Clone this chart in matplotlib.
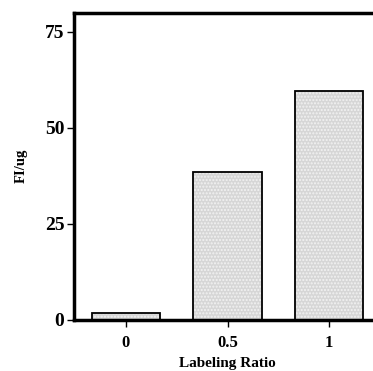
import matplotlib
matplotlib.use("Agg")
import matplotlib.pyplot as plt

# Data
ratios = ["0", "0.5", "1"]
fi_per_ug = [1.9, 38.6, 59.5]

plt.rcParams['font.family'] = ['Liberation Serif', 'DejaVu Serif']
plt.rcParams['font.weight'] = 'bold'

fig = plt.figure(figsize=(3.73, 3.71), dpi=100)
ax = fig.add_axes([74 / 373, 51 / 371, 307 / 373, 307.5 / 371])

x = range(len(ratios))
# hatched light-gray fill, then a black outline on top
ax.bar(x, fi_per_ug, width=0.67, color='#d6d6d6', edgecolor='#f2f2f2',
       hatch='.....', linewidth=0, zorder=2)
ax.bar(x, fi_per_ug, width=0.67, fill=False, edgecolor='black',
       linewidth=1.3, zorder=3)

ax.set_xlim(-0.51, 2.51)
ax.set_ylim(0, 80)
ax.set_yticks([0, 25, 50, 75])
ax.set_xticks(list(x))
ax.set_xticklabels(ratios)

for side in ['left', 'bottom', 'top', 'right']:
    ax.spines[side].set_linewidth(2.5)
ax.spines['left'].set_zorder(4)
ax.spines['bottom'].set_zorder(4)

ax.tick_params(axis='y', direction='out', length=5, width=1, labelsize=14, pad=2)
ax.tick_params(axis='x', direction='out', length=5, width=1, labelsize=12, pad=6)
for lbl in ax.get_xticklabels() + ax.get_yticklabels():
    lbl.set_fontweight('bold')

ax.set_xlabel("Labeling Ratio", fontsize=11, fontweight='bold', labelpad=4)
ax.set_ylabel("FI/ug", fontsize=10.5, fontweight='bold', labelpad=12)

fig.savefig("out.png", dpi=100)
